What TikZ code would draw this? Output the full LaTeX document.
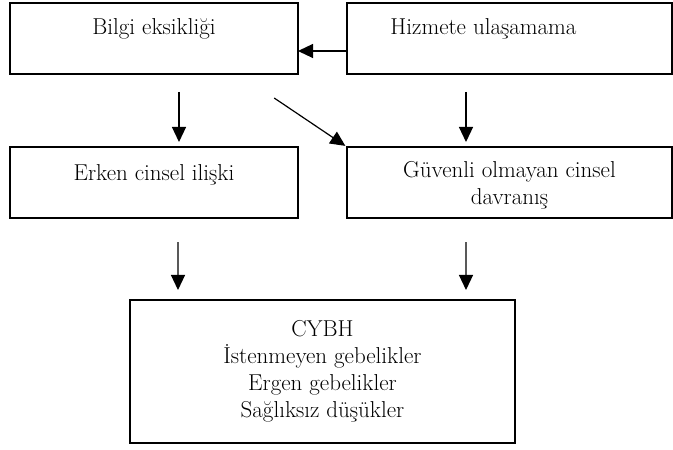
\documentclass[tikz,border=0pt]{standalone}
\usepackage{fontspec}
\usetikzlibrary{arrows.meta,positioning}

\begin{document}
\begin{tikzpicture}[
  x=1bp, y=-1bp,
  node distance=73bp and 49bp,
  font=\fontsize{23bp}{27bp}\selectfont,
  box/.style={draw, line width=1.6bp, outer sep=0pt, inner sep=0pt, align=center, minimum width=288bp, minimum height=71bp},
  wide/.style={box, minimum width=325bp},
  txt/.style={inner sep=0pt, align=center},
  arrow/.style={-{Triangle[length=15bp, width=14bp]}, line width=1.2bp}
]
  \useasboundingbox (0,0) rectangle (673,450);

  \node[box, label={[txt, yshift=10bp]center:Bilgi eksikliği}] (bilgi) at (154,38.5) {};
  \node[wide, right=of bilgi, label={[txt, xshift=-26bp, yshift=10bp]center:Hizmete ulaşamama}] (hizmet) {};

  \node[box, below=of bilgi, label={[txt, yshift=8bp]center:Erken cinsel ilişki}] (erken) {};
  \node[wide, below=of hizmet, label={[txt, yshift=-3bp]center:Güvenli olmayan cinsel\\davranış}] (guvenli) {};

  \node[box, minimum width=385bp, minimum height=143bp] (cybh) at (322.5,371.5) {CYBH\\İstenmeyen gebelikler\\Ergen gebelikler\\Sağlıksız düşükler};

  \draw[arrow] ([yshift=-12.5bp]hizmet.west) -- ([yshift=-12.5bp]bilgi.east);
  \draw[arrow, shorten <=18bp, shorten >=5bp] ([xshift=25bp]bilgi.south) -- ([xshift=25bp]erken.north);
  \draw[arrow, shorten <=43bp, shorten >=2bp] ([xshift=84.5bp]bilgi.south) -- (guvenli.north west);
  \draw[arrow, shorten <=18bp, shorten >=5bp] ([xshift=-43.5bp]hizmet.south) -- ([xshift=-43.5bp]guvenli.north);
  \draw[arrow, shorten <=24bp, shorten >=10bp] ([xshift=24bp]erken.south) -- ([xshift=-144.5bp]cybh.north);
  \draw[arrow, shorten <=24bp, shorten >=10bp] ([xshift=-43.5bp]guvenli.south) -- ([xshift=143.5bp]cybh.north);
\end{tikzpicture}
\end{document}
